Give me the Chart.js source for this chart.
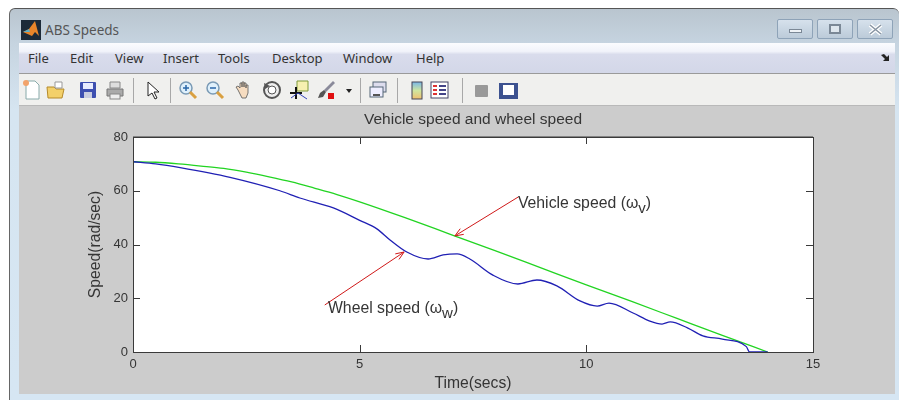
<!DOCTYPE html>
<html><head><meta charset="utf-8"><title>ABS Speeds</title>
<script src="https://cdn.jsdelivr.net/npm/chart.js@4"></script>
<style>
html,body{margin:0;padding:0;background:#fff;width:899px;height:400px;overflow:hidden}
#win{position:absolute;left:9px;top:8px;width:890px;height:392px;border-radius:6px 6px 0 0;border-top:1px solid #555;border-left:1px solid #666;box-sizing:border-box;background:linear-gradient(#b9c5cf,#c6d4e0 9%,#d6e5f1 26%,#d6e6f3)}
.abs{position:absolute}
#menu{left:19px;top:43px;width:876px;height:31px;background:linear-gradient(#fbfcfe 0,#f1f3fa 28%,#d9dcec 38%,#d3d7e8 100%);border-bottom:1px solid #9a9a9a;box-sizing:border-box}
#tool{left:19px;top:74px;width:876px;height:32px;background:#f0f0ee;border-bottom:1px solid #b9b9b9;box-sizing:border-box}
#fig{left:19px;top:106px;width:876px;height:288px;background:#cccccc}
.m{position:absolute;top:50px;font:13px "Noto Sans",sans-serif;color:#333;line-height:17px}
#ttl{position:absolute;left:45px;top:21px;font:13.5px "Noto Sans",sans-serif;color:#555;line-height:18px}
.b{position:absolute;top:19px;height:20px;border:1px solid #8ea3b8;border-radius:2px;box-sizing:border-box;background:linear-gradient(#d6e1ec,#bccbd9)}
.sep{position:absolute;top:78px;height:25px;width:1px;background:#a8a8a8}
svg.i{position:absolute;top:79px;width:22px;height:22px;filter:blur(.45px)}
canvas{position:absolute;left:0;top:0}
</style></head><body>
<div id="win"></div>
<div class="abs" id="menu"></div><div class="abs" id="tool"></div><div class="abs" id="fig"></div>
<svg style="position:absolute;left:21px;top:20px;width:20px;height:20px"><rect width="20" height="20" fill="#1c2a38"/><path d="M2 12l6-3 6-8 4 15-4-4-3 4z" fill="#e8852a"/><path d="M2 12l6-3 1 3z" fill="#5db0c8"/></svg>
<div id="ttl">ABS Speeds</div>
<span class="m" style="left:28px">File</span><span class="m" style="left:70px">Edit</span><span class="m" style="left:115px">View</span><span class="m" style="left:163px">Insert</span><span class="m" style="left:218px">Tools</span><span class="m" style="left:272px">Desktop</span><span class="m" style="left:343px">Window</span><span class="m" style="left:416px">Help</span>
<svg style="position:absolute;left:880px;top:53px;width:12px;height:10px"><path d="M1 2l3-1 3 3 2-2v6H3l2-2z" fill="#222"/></svg>
<div class="b" style="left:777px;width:36px"><div class="abs" style="left:11px;top:9px;width:13px;height:4px;background:#eef2f6;border:1px solid #7b8896;box-sizing:border-box"></div></div>
<div class="b" style="left:817px;width:36px"><div class="abs" style="left:11px;top:4px;width:12px;height:10px;border:2px solid #7b8896;box-sizing:border-box;background:#dfe7ee"></div></div>
<div class="b" style="left:857px;width:36px"><svg class="abs" style="left:10px;top:3px" width="15" height="13"><path d="M2 2l11 9M13 2L2 11" stroke="#fff" stroke-width="4"/><path d="M2 2l11 9M13 2L2 11" stroke="#8794a2" stroke-width="1.5"/></svg></div>
<div class="sep" style="left:133px"></div><div class="sep" style="left:170px"></div><div class="sep" style="left:360px"></div><div class="sep" style="left:397px"></div><div class="sep" style="left:462px"></div>
<div id="icons"></div>
<canvas id="c" width="899" height="400"></canvas>
<script>
// Data
const vehicleTime  = [0, 0.5, 1, 1.5, 2, 2.5, 3, 3.5, 4, 4.5, 5, 6, 7, 8, 9, 10, 11, 12, 13, 14];
const vehicleSpeed = [70.8, 70.6, 70, 69.2, 68.3, 66.9, 65.2, 63.3, 61, 58.6, 55.9, 50, 43.8, 37.6, 31.3, 25, 18.8, 12.5, 6.2, 0];
const wheelTime  = [0, 0.5, 1.04, 2.14, 3.24, 3.68, 4.42, 5, 5.38, 5.67, 6.04, 6.51, 6.84, 7.15, 7.43, 7.94, 8.49, 8.91, 9.35, 9.86, 10.24, 10.5, 11.03, 11.4, 11.67, 11.85, 12.24, 12.57, 13, 13.53, 13.6, 14];
const wheelSpeed = [70.8, 70, 68.6, 65, 60, 57.3, 53.6, 49, 45.8, 41.7, 37.2, 34.6, 36.1, 36.5, 34.6, 28.6, 25.3, 26.8, 24.6, 19, 17.1, 18.2, 14.5, 11.5, 10.4, 11.2, 8.9, 6, 4.8, 2, 0, 0];
const vehicleArrowTime = [8.5, 7.1];
const vehicleArrowSpeed = [57.7, 43.2];
const wheelArrowTime = [4.23, 5.98];
const wheelArrowSpeed = [17.5, 37.2];
const xTickValues = [0, 5, 10, 15];
const yTickValues = [0, 20, 40, 60, 80];
const chartTitle = 'Vehicle speed and wheel speed';
const xLabel = 'Time(secs)';
const yLabel = 'Speed(rad/sec)';
const vehicleLabel = ['Vehicle speed (ω', 'v', ')', 8.49, 53.6];
const wheelLabel = ['Wheel speed (ω', 'w', ')', 4.3, 14.5];

const zip = (a, b) => a.map((x, i) => ({x, y: b[i]}));
const FONT = '"Liberation Sans", Arial, sans-serif';
const INK = '#353535';

// toolbar icons
const icons = [
 [21,'<path d="M5 2h9l4 4v14H5z" fill="#fff" stroke="#8aa" /><circle cx="5" cy="4" r="3" fill="#f2a36b"/>'],
 [45,'<path d="M2 8h7l2 2h8l-2 9H3z" fill="#f3d06a" stroke="#b58a2a"/><path d="M10 3h7v6h-7z" fill="#fff" stroke="#999"/>'],
 [77,'<rect x="3" y="3" width="16" height="16" rx="1" fill="#3d4fb0"/><rect x="6" y="4" width="10" height="6" fill="#e8ecff"/><rect x="7" y="13" width="8" height="6" fill="#c9cde0"/>'],
 [104,'<path d="M6 9V3h10v6z" fill="#ddd" stroke="#888"/><path d="M3 10h16v7H3z" fill="#aaa" stroke="#777"/><rect x="6" y="15" width="10" height="5" fill="#eee" stroke="#888"/>'],
 [142,'<path d="M6 3v14l4-3 3 6 2-1-3-6h5z" fill="#fff" stroke="#222"/>'],
 [177,'<circle cx="9" cy="9" r="6" fill="#dff0fb" stroke="#7a9ab5" stroke-width="1.5"/><path d="M6 9h6M9 6v6" stroke="#2a66a8" stroke-width="1.5"/><path d="M13 13l6 6" stroke="#d9a041" stroke-width="3"/>'],
 [204,'<circle cx="9" cy="9" r="6" fill="#dff0fb" stroke="#7a9ab5" stroke-width="1.5"/><path d="M6 9h6" stroke="#2a66a8" stroke-width="1.5"/><path d="M13 13l6 6" stroke="#d9a041" stroke-width="3"/>'],
 [233,'<path d="M5 11l-2-3 2-1 2 2V4h2v4-5h2v5-4h2v5-3h2v8l-2 5H9z" fill="#f6dcc0" stroke="#555" stroke-width=".8"/>'],
 [261,'<circle cx="11" cy="11" r="8" fill="#eee" stroke="#555" stroke-width="2"/><circle cx="11" cy="11" r="4" fill="#fff" stroke="#555"/><path d="M3 4l1 6 5-3z" fill="#555"/>'],
 [288,'<path d="M9 2h11v10H9z" fill="#f6f0b0" stroke="#7f9a3a"/><path d="M2 14h12M8 8v12" stroke="#111" stroke-width="2"/><path d="M3 19l7-5 9 6" stroke="#34b" fill="none"/>'],
 [315,'<path d="M18 2l2 2-9 9-2-2z" fill="#8a8a9a"/><path d="M9 11l2 2-3 5-5 1 2-5z" fill="#555"/><rect x="13" y="14" width="6" height="6" fill="#e01010"/>'],
 [338,'<path d="M8 10h6l-3 4z" fill="#222"/>'],
 [367,'<rect x="6" y="3" width="13" height="10" fill="#dde" stroke="#567"/><rect x="3" y="8" width="13" height="10" fill="#eef" stroke="#567"/><path d="M6 16h7" stroke="#555" stroke-width="2"/>'],
 [406,'<defs><linearGradient id="g" x1="0" y1="0" x2="0" y2="1"><stop offset="0" stop-color="#79b7e8"/><stop offset=".5" stop-color="#cfe6a0"/><stop offset="1" stop-color="#f0c070"/></linearGradient></defs><rect x="6" y="3" width="10" height="17" fill="url(#g)" stroke="#445"/>'],
 [428,'<rect x="3" y="3" width="17" height="16" fill="#fff" stroke="#446"/><path d="M5 7h4M5 11h4M5 15h4" stroke="#d33" stroke-width="2"/><path d="M11 7h7M11 11h7M11 15h7" stroke="#448" stroke-width="2"/>'],
 [470,'<rect x="5" y="6" width="13" height="12" rx="1" fill="#999"/>'],
 [497,'<rect x="3" y="5" width="17" height="14" fill="#fff" stroke="#3d5290" stroke-width="2"/><rect x="3" y="5" width="3" height="14" fill="#3d5290"/><rect x="17" y="5" width="3" height="14" fill="#3d5290"/><rect x="3" y="16" width="17" height="3" fill="#3d5290"/>']
];
document.getElementById('icons').innerHTML = icons.map(([x, s]) => `<svg class="i" style="left:${x}px" viewBox="0 0 22 22">${s}</svg>`).join('');

const frame = {
  id: 'frame',
  afterDatasetsDraw(chart) {
    const {ctx, chartArea: a, scales: {x, y}} = chart;
    ctx.save();
    // axes box with inward ticks on all four sides
    ctx.strokeStyle = '#3a3a3a'; ctx.lineWidth = 1;
    ctx.strokeRect(a.left + .5, a.top + .5, a.width, a.height);
    ctx.beginPath();
    ctx.moveTo(a.left, a.top); ctx.lineTo(a.right, a.top);
    xTickValues.forEach(v => { const p = Math.round(x.getPixelForValue(v)) + .5;
      ctx.moveTo(p, a.bottom); ctx.lineTo(p, a.bottom - 7); ctx.moveTo(p, a.top); ctx.lineTo(p, a.top + 7); });
    yTickValues.forEach(v => { const p = Math.round(y.getPixelForValue(v)) + .5;
      ctx.moveTo(a.left, p); ctx.lineTo(a.left + 7, p); ctx.moveTo(a.right, p); ctx.lineTo(a.right - 7, p); });
    ctx.stroke();
    // arrow heads
    ctx.strokeStyle = '#d01818';
    [[vehicleArrowTime, vehicleArrowSpeed], [wheelArrowTime, wheelArrowSpeed]].forEach(([tt, ss]) => {
      const x1 = x.getPixelForValue(tt[1]), y1 = y.getPixelForValue(ss[1]);
      const ang = Math.atan2(y1 - y.getPixelForValue(ss[0]), x1 - x.getPixelForValue(tt[0]));
      ctx.beginPath();
      [-.38, .38].forEach(d => { ctx.moveTo(x1, y1); ctx.lineTo(x1 - 9 * Math.cos(ang + d), y1 - 9 * Math.sin(ang + d)); });
      ctx.stroke();
    });
    // annotations with subscripts
    ctx.fillStyle = INK; ctx.textBaseline = 'alphabetic'; ctx.textAlign = 'left';
    [vehicleLabel, wheelLabel].forEach(([a1, sub, a2, tx, ty]) => {
      let px = x.getPixelForValue(tx); const py = y.getPixelForValue(ty);
      ctx.font = '15.8px ' + FONT; ctx.fillText(a1, px, py); px += ctx.measureText(a1).width;
      ctx.font = '15px ' + FONT; ctx.fillText(sub, px, py + 5); px += ctx.measureText(sub).width;
      ctx.font = '15.8px ' + FONT; ctx.fillText(a2, px, py);
    });
    ctx.restore();
  }
};

new Chart(document.getElementById('c'), {
  type: 'scatter',
  data: { datasets: [
    {label: 'Wheel speed', data: zip(wheelTime, wheelSpeed), showLine: true, borderColor: '#2020b4', borderWidth: 1.3, pointRadius: 0, cubicInterpolationMode: 'monotone'},
    {label: 'Vehicle speed', data: zip(vehicleTime, vehicleSpeed), showLine: true, borderColor: '#22d422', borderWidth: 1.3, pointRadius: 0, cubicInterpolationMode: 'monotone'},
    {label: 'Vehicle arrow', data: zip(vehicleArrowTime, vehicleArrowSpeed), showLine: true, borderColor: '#d01818', borderWidth: 1, pointRadius: 0},
    {label: 'Wheel arrow', data: zip(wheelArrowTime, wheelArrowSpeed), showLine: true, borderColor: '#d01818', borderWidth: 1, pointRadius: 0}
  ]},
  plugins: [{id: 'bg', beforeDraw(c) { const {ctx, chartArea: a} = c; ctx.save(); ctx.fillStyle = '#fff'; ctx.fillRect(a.left, a.top, a.width, a.height); ctx.restore(); }}, frame],
  options: {
    responsive: false, animation: false, devicePixelRatio: 1,
    layout: {padding: {left: 0, right: 86, top: 110, bottom: 0}},
    plugins: {
      legend: {display: false}, tooltip: {enabled: false},
      title: {display: true, fullSize: false, text: chartTitle, color: INK, font: {family: FONT, size: 15.5, weight: 'normal'}, padding: {top: 0, bottom: 8.4}}
    },
    scales: {
      x: {type: 'linear', min: 0, max: 15, afterFit: s => { s.height = 48; },
        afterBuildTicks: s => { s.ticks = xTickValues.map(value => ({value})); },
        grid: {display: false, drawTicks: false}, border: {display: false},
        ticks: {color: INK, font: {family: FONT, size: 13}, padding: 5, maxRotation: 0, autoSkip: false},
        title: {display: true, text: xLabel, color: INK, font: {family: FONT, size: 15.7}, padding: {top: 0, bottom: 6.6}}},
      y: {type: 'linear', min: 0, max: 80, afterFit: s => { s.width = 133; },
        afterBuildTicks: s => { s.ticks = yTickValues.map(value => ({value})); },
        grid: {display: false, drawTicks: false}, border: {display: false},
        ticks: {color: INK, font: {family: FONT, size: 13}, padding: 5, autoSkip: false},
        title: {display: true, text: yLabel, color: INK, font: {family: FONT, size: 15.7}, padding: {top: 86, bottom: 0}}}
    }
  }
});
</script>
</body></html>
